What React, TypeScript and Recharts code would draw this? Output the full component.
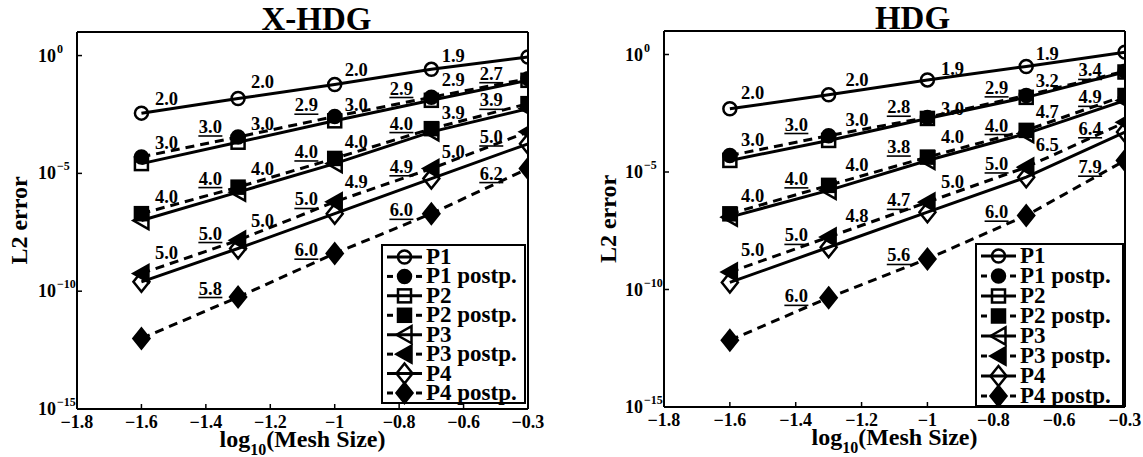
import React from 'react';
import { ComposedChart, Line, Scatter, XAxis, YAxis, Legend, Label } from 'recharts';

// ---------- data ----------
const meshLog = [-1.6, -1.3, -1.0, -0.7, -0.4];
const xTicks = [-1.8, -1.6, -1.4, -1.2, -1.0, -0.8, -0.6, -0.4];
const xTickLabels = ['\u22121.8', '\u22121.6', '\u22121.4', '\u22121.2', '\u22121', '\u22120.8', '\u22120.6', '\u22120.3'];
const yTicks = [1e-15, 1e-10, 1e-5, 1];
const yTickExponents = ['\u221215', '\u221210', '\u22125', '0'];
const seriesNames = ['P1', 'P1 postp.', 'P2', 'P2 postp.', 'P3', 'P3 postp.', 'P4', 'P4 postp.'];

// X-HDG panel
const xhdgP1 = [3.6e-3, 1.5e-2, 5.9e-2, 2.6e-1, 8.7e-1];
const xhdgP1post = [5.0e-5, 3.5e-4, 2.6e-3, 1.7e-2, 1.05e-1];
const xhdgP2 = [2.6e-5, 2.1e-4, 1.7e-3, 1.26e-2, 8.9e-2];
const xhdgP2post = [1.95e-7, 2.6e-6, 4.3e-5, 7.9e-4, 9.1e-3];
const xhdgP3 = [1.0e-7, 1.6e-6, 2.6e-5, 5.8e-4, 5.6e-3];
const xhdgP3post = [5.6e-10, 1.45e-8, 6.2e-7, 1.6e-5, 5.8e-4];
const xhdgP4 = [2.5e-10, 6.5e-9, 1.95e-7, 6.0e-6, 1.8e-4];
const xhdgP4post = [9.8e-13, 5.6e-11, 4.0e-9, 1.95e-7, 1.6e-5];

// HDG panel
const hdgP1 = [4.9e-3, 1.95e-2, 8.3e-2, 3.1e-1, 1.26];
const hdgP1post = [5.0e-5, 3.5e-4, 2.1e-3, 1.8e-2, 1.95e-1];
const hdgP2 = [3.1e-5, 2.2e-4, 1.9e-3, 1.5e-2, 1.8e-1];
const hdgP2post = [1.66e-7, 2.7e-6, 4.3e-5, 5.9e-4, 1.8e-2];
const hdgP3 = [1.2e-7, 1.66e-6, 3.1e-5, 4.3e-4, 1.1e-2];
const hdgP3post = [5.5e-10, 1.7e-8, 5.2e-7, 1.6e-5, 1.3e-3];
const hdgP4 = [2.0e-10, 6.3e-9, 1.95e-7, 6.0e-6, 5.0e-4];
const hdgP4post = [6.9e-13, 4.5e-11, 2.0e-9, 1.4e-7, 3.1e-5];

// convergence-rate annotations (x in log10 mesh size, y = error level, u = underlined)
const xhdgRates = [
  { x: -1.522, y: 1.5e-2, t: '2.0', u: false },
  { x: -1.522, y: 1.95e-4, t: '3.0', u: false },
  { x: -1.522, y: 1e-6, t: '4.0', u: false },
  { x: -1.522, y: 4e-9, t: '5.0', u: false },
  { x: -1.386, y: 9.3e-4, t: '3.0', u: true },
  { x: -1.386, y: 6e-6, t: '4.0', u: true },
  { x: -1.386, y: 2.8e-8, t: '5.0', u: true },
  { x: -1.386, y: 1.3e-10, t: '5.8', u: true },
  { x: -1.224, y: 7.6e-2, t: '2.0', u: false },
  { x: -1.224, y: 1.3e-3, t: '3.0', u: false },
  { x: -1.224, y: 1.6e-5, t: '4.0', u: false },
  { x: -1.224, y: 1e-7, t: '5.0', u: false },
  { x: -1.088, y: 7.8e-3, t: '2.9', u: true },
  { x: -1.088, y: 8.1e-5, t: '4.0', u: true },
  { x: -1.088, y: 7.8e-7, t: '5.0', u: true },
  { x: -1.088, y: 5.5e-9, t: '6.0', u: true },
  { x: -0.933, y: 0.24, t: '2.0', u: false },
  { x: -0.933, y: 7.8e-3, t: '3.0', u: false },
  { x: -0.933, y: 2.1e-4, t: '4.0', u: false },
  { x: -0.933, y: 4.3e-6, t: '4.9', u: false },
  { x: -0.793, y: 4e-2, t: '2.9', u: true },
  { x: -0.793, y: 1.3e-3, t: '4.0', u: true },
  { x: -0.793, y: 1.9e-5, t: '4.9', u: true },
  { x: -0.793, y: 2.7e-7, t: '6.0', u: true },
  { x: -0.632, y: 1.0, t: '1.9', u: false },
  { x: -0.632, y: 8.9e-2, t: '2.9', u: false },
  { x: -0.632, y: 3.5e-3, t: '3.9', u: false },
  { x: -0.632, y: 8.1e-5, t: '5.0', u: false },
  { x: -0.514, y: 0.17, t: '2.7', u: true },
  { x: -0.514, y: 1.26e-2, t: '3.9', u: true },
  { x: -0.514, y: 3.5e-4, t: '5.0', u: true },
  { x: -0.514, y: 9.8e-6, t: '6.2', u: true },
];

const hdgRates = [
  { x: -1.531, y: 2.2e-2, t: '2.0', u: false },
  { x: -1.531, y: 2.2e-4, t: '3.0', u: false },
  { x: -1.531, y: 1e-6, t: '4.0', u: false },
  { x: -1.531, y: 4.6e-9, t: '5.0', u: false },
  { x: -1.398, y: 1.05e-3, t: '3.0', u: true },
  { x: -1.398, y: 5.1e-6, t: '4.0', u: true },
  { x: -1.398, y: 2e-8, t: '5.0', u: true },
  { x: -1.398, y: 5.1e-11, t: '6.0', u: true },
  { x: -1.214, y: 8.3e-2, t: '2.0', u: false },
  { x: -1.214, y: 1.7e-3, t: '3.0', u: false },
  { x: -1.214, y: 1.9e-5, t: '4.0', u: false },
  { x: -1.214, y: 1.3e-7, t: '4.8', u: false },
  { x: -1.087, y: 5.7e-3, t: '2.8', u: true },
  { x: -1.087, y: 1.15e-4, t: '3.8', u: true },
  { x: -1.087, y: 6.2e-7, t: '4.7', u: true },
  { x: -1.087, y: 2.8e-9, t: '5.6', u: true },
  { x: -0.924, y: 0.25, t: '1.9', u: false },
  { x: -0.924, y: 4.9e-3, t: '3.0', u: false },
  { x: -0.924, y: 3e-4, t: '4.0', u: false },
  { x: -0.924, y: 3.7e-6, t: '5.0', u: false },
  { x: -0.79, y: 3.8e-2, t: '2.9', u: true },
  { x: -0.79, y: 9.5e-4, t: '4.0', u: true },
  { x: -0.79, y: 2.2e-5, t: '5.0', u: true },
  { x: -0.79, y: 1.95e-7, t: '6.0', u: true },
  { x: -0.636, y: 1.07, t: '1.9', u: false },
  { x: -0.636, y: 7.8e-2, t: '3.2', u: false },
  { x: -0.636, y: 3.5e-3, t: '4.7', u: false },
  { x: -0.636, y: 1.35e-4, t: '6.5', u: false },
  { x: -0.506, y: 0.21, t: '3.4', u: true },
  { x: -0.506, y: 1.5e-2, t: '4.9', u: true },
  { x: -0.506, y: 6.9e-4, t: '6.4', u: true },
  { x: -0.506, y: 1.6e-5, t: '7.9', u: true },
];

// ---------- styles ----------
const SERIF = '"Liberation Serif", "DejaVu Serif", serif';
const INK = '#000';
const seriesStyle = [
  { marker: 'circle', filled: false, dashed: false },
  { marker: 'circle', filled: true, dashed: true },
  { marker: 'square', filled: false, dashed: false },
  { marker: 'square', filled: true, dashed: true },
  { marker: 'triangle', filled: false, dashed: false },
  { marker: 'triangle', filled: true, dashed: true },
  { marker: 'diamond', filled: false, dashed: false },
  { marker: 'diamond', filled: true, dashed: true },
];

function buildRows(series: number[][]) {
  return meshLog.map((x, i) => {
    const r: any = { x };
    series.forEach((s, k) => {
      r['s' + k] = s[i];
    });
    return r;
  });
}

const xhdgRows = buildRows([xhdgP1, xhdgP1post, xhdgP2, xhdgP2post, xhdgP3, xhdgP3post, xhdgP4, xhdgP4post]);
const hdgRows = buildRows([hdgP1, hdgP1post, hdgP2, hdgP2post, hdgP3, hdgP3post, hdgP4, hdgP4post]);

function Marker({ kind, filled, cx, cy }: any) {
  const common = { fill: filled ? INK : 'none', stroke: INK, strokeWidth: 2.5 };
  if (cx == null || cy == null) return null;
  switch (kind) {
    case 'circle':
      return <circle cx={cx} cy={cy} r={6.5} {...common} />;
    case 'square':
      return <rect x={cx - 6.5} y={cy - 6.5} width={13} height={13} {...common} />;
    case 'triangle':
      return <polygon points={`${cx - 8},${cy} ${cx + 7},${cy - 8.5} ${cx + 7},${cy + 8.5}`} {...common} />;
    default:
      return <polygon points={`${cx},${cy - 10} ${cx + 8},${cy} ${cx},${cy + 10} ${cx - 8},${cy}`} {...common} />;
  }
}

function RateLabel(props: any) {
  const { cx, cy, payload } = props;
  if (cx == null || cy == null) return <g />;
  return (
    <g>
      <text x={cx} y={cy + 6} textAnchor="middle" fontFamily={SERIF} fontWeight="bold" fontSize={18.5} fill={INK}>
        {payload.t}
      </text>
      {payload.u ? <line x1={cx - 12} x2={cx + 12} y1={cy + 9} y2={cy + 9} stroke={INK} strokeWidth={1.6} /> : null}
    </g>
  );
}

function LegendBox({ w, h }: { w: number; h: number }) {
  const step = (h - 24) / 7;
  return (
    <svg width={w} height={h} style={{ display: 'block', overflow: 'visible' }}>
      <rect x={1} y={1} width={w - 2} height={h - 2} fill="#fff" stroke={INK} strokeWidth={2} />
      {seriesStyle.map((s, i) => {
        const cy = 13 + i * step;
        return (
          <g key={i}>
            {s.dashed ? (
              <g>
                <line x1={6} x2={12} y1={cy} y2={cy} stroke={INK} strokeWidth={3} />
                <line x1={35} x2={41} y1={cy} y2={cy} stroke={INK} strokeWidth={3} />
              </g>
            ) : (
              <line x1={6} x2={41} y1={cy} y2={cy} stroke={INK} strokeWidth={3} />
            )}
            <Marker kind={s.marker} filled={s.filled} cx={23.5} cy={cy} />
            <text x={45} y={cy + 7} fontFamily={SERIF} fontWeight="bold" fontSize={23} fill={INK}>
              {seriesNames[i]}
            </text>
          </g>
        );
      })}
    </svg>
  );
}

function XTick(props: any) {
  const { x, y, index } = props;
  return (
    <text x={x} y={y + 24} textAnchor="middle" fontFamily={SERIF} fontWeight="bold" fontSize={18} fill={INK}>
      {xTickLabels[index]}
    </text>
  );
}

function YTick(props: any) {
  const { x, y, index } = props;
  const ax = x - 26;
  return (
    <g>
      <text x={ax} y={y + 6} textAnchor="end" fontFamily={SERIF} fontWeight="bold" fontSize={18} fill={INK}>
        10
      </text>
      <text x={ax + 1} y={y - 3} textAnchor="start" fontFamily={SERIF} fontWeight="bold" fontSize={12} fill={INK}>
        {yTickExponents[index]}
      </text>
    </g>
  );
}

type PanelProps = {
  title: string;
  titleDx: number;
  rows: any[];
  rates: any[];
  width: number;
  margin: { top: number; right: number; bottom: number; left: number };
  yLabelX: number;
  legend: { left: number; top: number; w: number; h: number };
};

function Panel({ title, titleDx, rows, rates, width, margin, yLabelX, legend }: PanelProps) {
  return (
    <ComposedChart width={width} height={457} data={rows} margin={margin}>
      <XAxis
        dataKey="x"
        type="number"
        domain={[-1.8, -0.4]}
        ticks={xTicks}
        interval={0}
        allowDataOverflow
        axisLine={{ stroke: INK, strokeWidth: 2 }}
        tickLine={{ stroke: INK, strokeWidth: 1.5 }}
        tickSize={-5}
        tickMargin={0}
        tick={<XTick />}
        height={40}
      >
        <Label
          content={(p: any) => {
            const vb = p.viewBox;
            const cx = vb.x + vb.width / 2;
            return (
              <text x={cx} y={vb.y + 38} textAnchor="middle" fontFamily={SERIF} fontWeight="bold" fontSize={24} fill={INK}>
                <tspan>log</tspan>
                <tspan dy={8} fontSize={16}>10</tspan>
                <tspan dy={-8}>(Mesh Size)</tspan>
              </text>
            );
          }}
        />
      </XAxis>
      <XAxis
        xAxisId="top"
        orientation="top"
        dataKey="x"
        type="number"
        domain={[-1.8, -0.4]}
        ticks={xTicks}
        interval={0}
        allowDataOverflow
        axisLine={{ stroke: INK, strokeWidth: 2 }}
        tickLine={{ stroke: INK, strokeWidth: 1.5 }}
        tickSize={-5}
        tick={false}
        height={1}
      >
        <Label
          content={(p: any) => {
            const vb = p.viewBox;
            const cx = vb.x + vb.width / 2 + titleDx;
            return (
              <text x={cx} y={vb.y - 1} textAnchor="middle" fontFamily={SERIF} fontWeight="bold" fontSize={33} fill={INK}>
                {title}
              </text>
            );
          }}
        />
      </XAxis>
      <YAxis
        type="number"
        scale="log"
        domain={[1e-15, 10]}
        ticks={yTicks}
        interval={0}
        allowDataOverflow
        axisLine={{ stroke: INK, strokeWidth: 2 }}
        tickLine={{ stroke: INK, strokeWidth: 1.5 }}
        tickSize={-5}
        tickMargin={0}
        tick={<YTick />}
        width={60}
      >
        <Label
          content={(p: any) => {
            const vb = p.viewBox;
            const cy = vb.y + vb.height / 2;
            return (
              <text
                x={yLabelX}
                y={cy}
                transform={`rotate(-90 ${yLabelX} ${cy})`}
                textAnchor="middle"
                dominantBaseline="central"
                fontFamily={SERIF}
                fontWeight="bold"
                fontSize={24}
                fill={INK}
              >
                L2 error
              </text>
            );
          }}
        />
      </YAxis>
      <YAxis
        yAxisId="right"
        orientation="right"
        type="number"
        scale="log"
        domain={[1e-15, 10]}
        ticks={yTicks}
        interval={0}
        allowDataOverflow
        axisLine={{ stroke: INK, strokeWidth: 2 }}
        tickLine={{ stroke: INK, strokeWidth: 1.5 }}
        tickSize={-5}
        tick={false}
        width={1}
      />
      {seriesStyle.map((s, k) => (
        <Line
          key={'s' + k}
          dataKey={'s' + k}
          name={seriesNames[k]}
          stroke={INK}
          strokeWidth={3}
          strokeDasharray={s.dashed ? '9 6' : undefined}
          isAnimationActive={false}
          activeDot={false}
          legendType="none"
          dot={(p: any) => <Marker key={`m${k}-${p.index}`} kind={s.marker} filled={s.filled} cx={p.cx} cy={p.cy} />}
        />
      ))}
      <Scatter data={rates} dataKey="y" shape={(p: any) => <RateLabel {...p} />} isAnimationActive={false} legendType="none" />
      <Legend
        layout="vertical"
        align="center"
        verticalAlign="middle"
        wrapperStyle={{ position: 'absolute', left: legend.left, top: legend.top, width: legend.w, height: legend.h }}
        content={() => <LegendBox w={legend.w} h={legend.h} />}
      />
    </ComposedChart>
  );
}

export default function App() {
  return (
    <div style={{ position: 'absolute', left: 0, top: 0, width: 1143, height: 457, background: '#fff' }}>
      <div style={{ position: 'absolute', left: 0, top: 0 }}>
        <Panel
          title="X-HDG"
          titleDx={14}
          rows={xhdgRows}
          rates={xhdgRates}
          width={560}
          margin={{ top: 31, right: 31, bottom: 8, left: 17 }}
          yLabelX={19}
          legend={{ left: 381, top: 244, w: 145, h: 160 }}
        />
      </div>
      <div style={{ position: 'absolute', left: 570, top: 0 }}>
        <Panel
          title="HDG"
          titleDx={18}
          rows={hdgRows}
          rates={hdgRates}
          width={573}
          margin={{ top: 30, right: 17, bottom: 10, left: 34 }}
          yLabelX={38}
          legend={{ left: 405, top: 243, w: 149, h: 164 }}
        />
      </div>
    </div>
  );
}
